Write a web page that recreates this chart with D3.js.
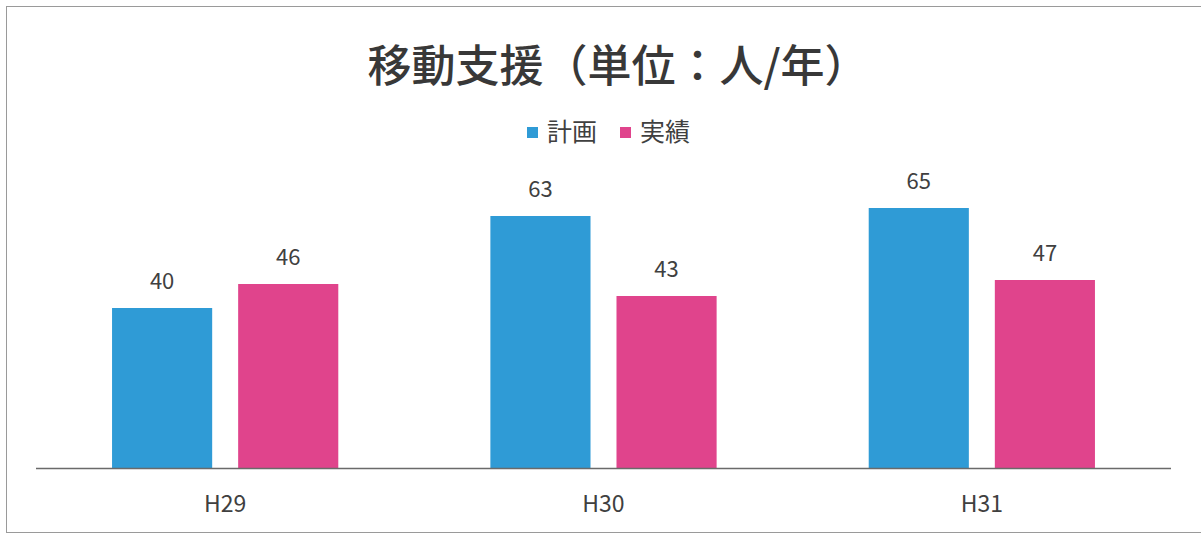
<!DOCTYPE html>
<html>
<head>
<meta charset="utf-8">
<script src="https://cdn.jsdelivr.net/npm/d3@7"></script>
<style>
  body { margin: 0; background: #fff; }
  text { font-family: "Noto Sans CJK JP", "Noto Sans", sans-serif; }
</style>
</head>
<body>
<script>
var categories = ["H29", "H30", "H31"],
    seriesNames = ["計画", "実績"],
    planValues = [40, 63, 65],
    actualValues = [46, 43, 47],
    titleText = "移動支援\uFF08単位\uFF1A人/年\uFF09";

var colors = ["#2f9bd6", "#e0448c"];

var width = 1201, height = 536;
var svg = d3.select("body").append("svg")
    .attr("width", width).attr("height", height);

// scanned frame
svg.append("rect")
    .attr("x", 6.5).attr("y", 6.5).attr("width", width - 6).attr("height", 526)
    .attr("fill", "none").attr("stroke", "#9a9a9a").attr("stroke-width", 1);

var plotLeft = 36, plotRight = 1171, baseY = 468;

var x0 = d3.scaleBand().domain(categories).range([plotLeft, plotRight]);
var x1 = d3.scaleBand().domain(seriesNames).range([0, x0.bandwidth()])
    .paddingInner(0.206).paddingOuter(0.603);
var y = d3.scaleLinear().domain([0, 100]).range([baseY, baseY - 400]);

var data = categories.map((c, i) => ({ cat: c, vals: [planValues[i], actualValues[i]] }));

var groups = svg.selectAll("g.cat").data(data).enter().append("g")
    .attr("class", "cat")
    .attr("transform", d => "translate(" + x0(d.cat) + ",0)");

groups.selectAll("rect")
    .data(d => d.vals.map((v, j) => ({ name: seriesNames[j], v: v, j: j })))
    .enter().append("rect")
    .attr("x", d => x1(d.name))
    .attr("width", x1.bandwidth())
    .attr("y", d => y(d.v))
    .attr("height", d => baseY - y(d.v))
    .attr("fill", d => colors[d.j]);

groups.selectAll("text.val")
    .data(d => d.vals.map((v, j) => ({ name: seriesNames[j], v: v })))
    .enter().append("text")
    .attr("class", "val")
    .attr("x", d => x1(d.name) + x1.bandwidth() / 2)
    .attr("y", d => y(d.v) - 19)
    .attr("text-anchor", "middle")
    .style("font-size", "22px").style("fill", "#404040")
    .text(d => d.v);

// axis line
svg.append("line")
    .attr("x1", plotLeft).attr("x2", plotRight)
    .attr("y1", baseY + 0.5).attr("y2", baseY + 0.5)
    .attr("stroke", "#6a6a6a").attr("stroke-width", 1.5);

svg.selectAll("text.cat")
    .data(categories).enter().append("text")
    .attr("class", "cat")
    .attr("x", d => x0(d) + x0.bandwidth() / 2)
    .attr("y", 512)
    .attr("text-anchor", "middle")
    .style("font-size", "23px").style("fill", "#404040")
    .text(d => d);

// title
svg.append("text")
    .attr("x", 618).attr("y", 82)
    .attr("text-anchor", "middle")
    .style("font-size", "44px").style("font-weight", "500").style("fill", "#383838")
    .text(titleText);

// legend
var legendX = [527, 620];
var lg = svg.selectAll("g.legend").data(seriesNames).enter().append("g")
    .attr("class", "legend")
    .attr("transform", (d, i) => "translate(" + legendX[i] + ",127)");
lg.append("rect").attr("width", 11).attr("height", 11).attr("fill", (d, i) => colors[i]);
lg.append("text").attr("x", 20).attr("y", 14)
    .style("font-size", "25px").style("fill", "#404040")
    .text(d => d);
</script>
</body>
</html>
